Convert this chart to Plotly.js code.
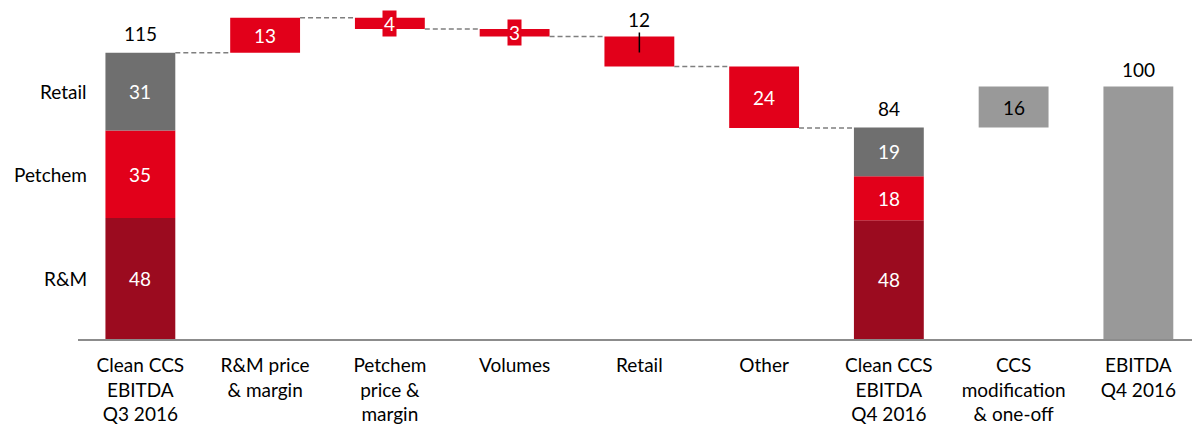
<!DOCTYPE html>
<html>
<head>
<meta charset="utf-8">
<script src="https://cdn.plot.ly/plotly-3.0.1.min.js"></script>
<style>html,body{margin:0;padding:0;background:#fff;}#chart{width:1192px;height:425px;}</style>
</head>
<body>
<div id="chart"></div>
<script>
// ---- data ----
const categories = ["Clean CCS<br>EBITDA<br>Q3 2016", "R&M price<br>& margin", "Petchem<br>price &<br>margin", "Volumes", "Retail", "Other", "Clean CCS<br>EBITDA<br>Q4 2016", "CCS<br>modification<br>& one-off", "EBITDA<br>Q4 2016"];
const segmentNames = ["R&M", "Petchem", "Retail"];
const q3Segments = [48.6, 35.1, 31.2];
const q3SegmentLabels = ["48", "35", "31"];
const q3TotalLabel = "115";
const bridgeChanges = [14.1, -4.5, -3.0, -12.1, -24.7];
const bridgeLabels = ["13", "4", "3", "12", "24"];
const q4Segments = [47.7, 17.6, 19.6];
const q4SegmentLabels = ["48", "18", "19"];
const q4TotalLabel = "84";
const ccsAdjustment = [16.5];
const ccsLabel = ["16"];
const ebitdaQ4 = [101.4];
const ebitdaLabel = ["100"];

// ---- styles ----
const FONT = "Lato, 'Open Sans', sans-serif";
const FS = 19;
const segColors = ["#9B0B1F", "#E2001A", "#6F6F6F"];
const changeColor = "#E2001A";
const adjColor = "#999999";
const BW = 0.56;

const q3Total = q3Segments.reduce((a, b) => a + b, 0);
const q4Total = q4Segments.reduce((a, b) => a + b, 0);

const traces = [];
const annotations = [];

// stacked segment bars for Q3 (x=0) and Q4 (x=6)
let base3 = 0, base4 = 0;
segmentNames.forEach((name, i) => {
  traces.push({
    type: "bar", x: [0, 6], y: [q3Segments[i], q4Segments[i]], base: [base3, base4],
    width: BW, marker: { color: segColors[i], line: { width: 0 } }, hoverinfo: "skip", showlegend: false
  });
  annotations.push({ x: 0, y: base3 + q3Segments[i] / 2, text: q3SegmentLabels[i], showarrow: false, font: { color: "#fff", size: FS, family: FONT } });
  annotations.push({ x: 6, y: base4 + q4Segments[i] / 2, text: q4SegmentLabels[i], showarrow: false, font: { color: "#fff", size: FS, family: FONT } });
  annotations.push({ x: -0.41, y: base3 + q3Segments[i] / 2, xanchor: "right", text: name, showarrow: false, font: { color: "#000", size: FS, family: FONT } });
  base3 += q3Segments[i];
  base4 += q4Segments[i];
});

// bridge bars
const bridgeX = [1, 2, 3, 4, 5];
const bridgeBase = [];
const levels = [q3Total];
let lvl = q3Total;
bridgeChanges.forEach(c => { bridgeBase.push(lvl); lvl += c; levels.push(lvl); });
traces.push({
  type: "bar", x: bridgeX, y: bridgeChanges, base: bridgeBase, width: BW,
  marker: { color: changeColor, line: { width: 0 } }, hoverinfo: "skip", showlegend: false
});

// CCS adjustment
traces.push({
  type: "bar", x: [7], y: ccsAdjustment, base: [q4Total], width: BW,
  marker: { color: adjColor, line: { width: 0 } }, hoverinfo: "skip", showlegend: false
});
// EBITDA Q4
traces.push({
  type: "bar", x: [8], y: ebitdaQ4, base: [0], width: BW,
  marker: { color: adjColor, line: { width: 0 } }, hoverinfo: "skip", showlegend: false
});

// connectors
const conn = [[0, q3Total]];
bridgeX.forEach((x, i) => conn.push([x, levels[i + 1]]));
for (let i = 0; i < conn.length; i++) {
  const x0 = conn[i][0] + BW / 2;
  const x1 = (i + 1 < conn.length ? conn[i + 1][0] : 6) - BW / 2;
  traces.push({
    type: "scatter", mode: "lines", x: [x0, x1], y: [conn[i][1], conn[i][1]],
    line: { color: "#7F7F7F", width: 1.5, dash: "5px,3px" }, hoverinfo: "skip", showlegend: false
  });
}

// totals above bars
annotations.push({ x: 0, y: q3Total, yanchor: "bottom", yshift: 6, text: q3TotalLabel, showarrow: false, font: { color: "#000", size: FS, family: FONT } });
annotations.push({ x: 6, y: q4Total, yanchor: "bottom", yshift: 6, text: q4TotalLabel, showarrow: false, font: { color: "#000", size: FS, family: FONT } });
annotations.push({ x: 8, y: ebitdaQ4[0], yanchor: "bottom", yshift: 3, text: ebitdaLabel[0], showarrow: false, font: { color: "#000", size: FS, family: FONT } });

// bridge labels
bridgeX.forEach((x, i) => {
  const mid = bridgeBase[i] + bridgeChanges[i] / 2;
  const top = Math.max(bridgeBase[i], bridgeBase[i] + bridgeChanges[i]);
  if (Math.abs(bridgeChanges[i]) < 6) {
    annotations.push({ x: x, y: mid, text: bridgeLabels[i], showarrow: false, bgcolor: changeColor, borderpad: 1, font: { color: "#fff", size: FS, family: FONT } });
  } else if (x === 4) {
    annotations.push({ x: x, y: top - 6.5, text: bridgeLabels[i], showarrow: true, arrowhead: 0, arrowwidth: 1.5, arrowcolor: "#000", ax: 0, ay: -33, standoff: 0, font: { color: "#000", size: FS, family: FONT } });
  } else {
    annotations.push({ x: x, y: mid, text: bridgeLabels[i], showarrow: false, font: { color: "#fff", size: FS, family: FONT } });
  }
});
annotations.push({ x: 7, y: q4Total + ccsAdjustment[0] / 2, text: ccsLabel[0], showarrow: false, font: { color: "#000", size: FS, family: FONT } });

const layout = {
  width: 1192, height: 425,
  margin: { l: 78, r: 0, t: 10, b: 86 },
  paper_bgcolor: "#fff", plot_bgcolor: "#fff",
  barmode: "overlay",
  showlegend: false,
  xaxis: {
    range: [-0.5, 8.43], tickvals: [0, 1, 2, 3, 4, 5, 6, 7, 8], ticktext: categories,
    showgrid: false, zeroline: false, showline: true, linecolor: "#8C8C8C", linewidth: 2,
    ticks: "", ticklabelstandoff: 8, tickfont: { family: FONT, size: FS, color: "#000" }, fixedrange: true
  },
  yaxis: { range: [0, 132.1], visible: false, showgrid: false, zeroline: false, fixedrange: true },
  annotations: annotations,
  font: { family: FONT, size: FS, color: "#000" }
};

Plotly.newPlot("chart", traces, layout, { displayModeBar: false, staticPlot: true });
</script>
</body>
</html>
